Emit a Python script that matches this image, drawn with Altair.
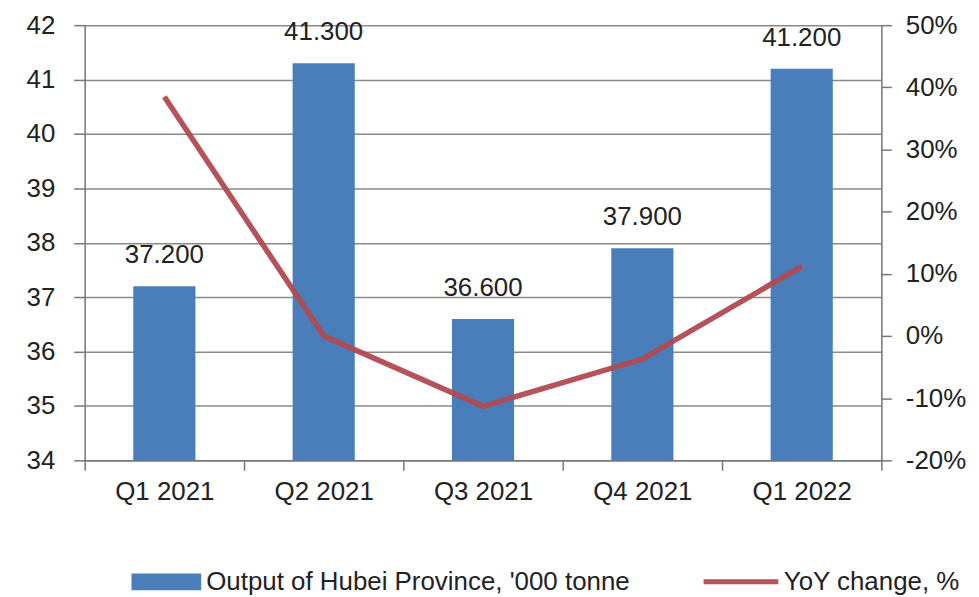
import altair as alt
import pandas as pd

quarters = ["Q1 2021", "Q2 2021", "Q3 2021", "Q4 2021", "Q1 2022"]
output = [37.2, 41.3, 36.6, 37.9, 41.2]
yoy = [0.385, 0.0, -0.113, -0.037, 0.112]
left_ticks = [34, 35, 36, 37, 38, 39, 40, 41, 42]
right_ticks = [-0.2, -0.1, 0.0, 0.1, 0.2, 0.3, 0.4, 0.5]
bar_name = "Output of Hubei Province, '000 tonne"
line_name = "YoY change, %"

df = pd.DataFrame({
    "quarter": quarters,
    "output": output,
    "yoy": yoy,
    "s1": [bar_name] * len(quarters),
    "s2": [line_name] * len(quarters),
})

FONT = "Liberation Sans"
BLUE = "#4A7EBB"
RED = "#B04A50"
TXT = "#222222"
GRID = "#8a8a8a"
AXC = "#777777"

x_enc = alt.X(
    "quarter:N", sort=quarters, title=None,
    scale=alt.Scale(paddingInner=0, paddingOuter=0),
    axis=alt.Axis(labelAngle=0, tickBand="extent", labelFontSize=26, labelFont=FONT,
                  labelColor=TXT, domainColor=AXC, tickColor=AXC,
                  tickSize=10, labelPadding=8, domainWidth=1.5, tickWidth=1.5, grid=False),
)

y_left = alt.Y(
    "output:Q",
    scale=alt.Scale(domain=[34, 42], zero=False, nice=False),
    axis=alt.Axis(values=left_ticks, title=None, orient="left", grid=True,
                  gridColor=GRID, gridWidth=1.5, tickSize=11, labelPadding=19,
                  labelFontSize=26, labelFont=FONT, labelColor=TXT,
                  domainColor=AXC, tickColor=AXC, domainWidth=1.5, tickWidth=1.5),
)

bars = alt.Chart(df).mark_bar(width=alt.RelativeBandSize(0.39)).encode(
    x=x_enc,
    y=y_left,
    y2=alt.datum(34),
    fill=alt.Fill("s1:N", scale=alt.Scale(range=[BLUE]), title=None,
                  legend=alt.Legend(orient="none", legendX=47, legendY=524,
                                    symbolType="M-1,-0.243H1V0.243H-1Z", symbolSize=4900,
                                    symbolStrokeWidth=0, labelFontSize=26, labelFont=FONT,
                                    labelColor=TXT, labelLimit=800, labelOffset=5, padding=0)),
)

labels = alt.Chart(df).mark_text(dy=-18, baseline="bottom", fontSize=26, font=FONT, color=TXT).encode(
    x=x_enc,
    y=alt.Y("output:Q"),
    text=alt.Text("output:Q", format=".3f"),
)

left_layer = alt.layer(bars, labels)

line = alt.Chart(df).mark_line(strokeWidth=5.5, opacity=0.95).encode(
    x=x_enc,
    y=alt.Y("yoy:Q", scale=alt.Scale(domain=[-0.2, 0.5], nice=False, zero=False),
            axis=alt.Axis(values=right_ticks, title=None, orient="right", grid=False,
                          labelExpr="(datum.value < -0.0001 ? '-' : '') + format(abs(datum.value), '.0%')",
                          tickSize=10, labelPadding=14, labelFontSize=26, labelFont=FONT,
                          labelColor=TXT, domainColor=AXC, tickColor=AXC,
                          domainWidth=1.5, tickWidth=1.5)),
    stroke=alt.Stroke("s2:N", scale=alt.Scale(range=[RED]), title=None,
                      legend=alt.Legend(orient="none", legendX=619, legendY=519,
                                        symbolType="stroke", symbolSize=5625, symbolStrokeWidth=5,
                                        labelFontSize=26, labelFont=FONT, labelColor=TXT,
                                        labelLimit=800, labelOffset=3, padding=0)),
)

chart = alt.layer(left_layer, line).resolve_scale(y="independent").properties(
    width=800, height=437,
    padding={"left": 18, "top": 3, "right": 5, "bottom": 5},
).configure_view(stroke=None).configure(background="white")

chart.save("out.html", embed_options={"renderer": "svg", "actions": False})
